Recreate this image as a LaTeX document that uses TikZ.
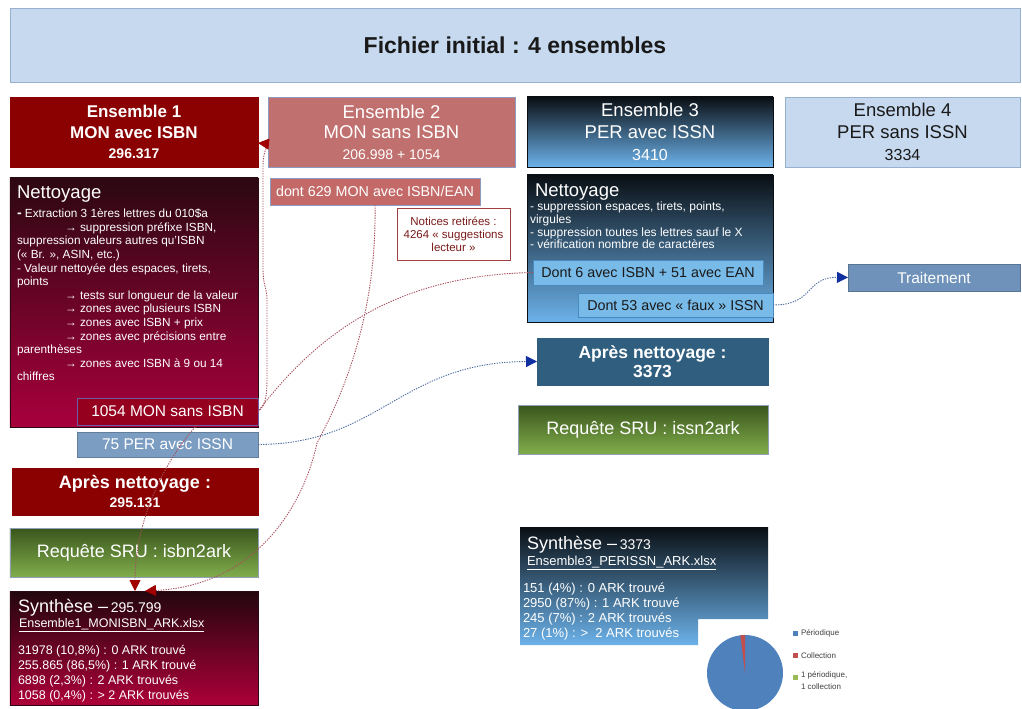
\documentclass[tikz,border=0pt]{standalone}
\usepackage{fontspec}
\setmainfont{Liberation Sans}
\usetikzlibrary{arrows.meta,calc}
\newcommand{\myfs}[2]{\fontsize{#1bp}{#2bp}\selectfont}
\definecolor{titlefill}{HTML}{C6D9EE}
\definecolor{titlebord}{HTML}{97B0CE}
\definecolor{darkred}{HTML}{8B0000}
\definecolor{rose}{HTML}{C0706E}
\definecolor{rosebord}{HTML}{8C9CC0}
\definecolor{wineTop}{HTML}{2C0812}
\definecolor{wineBot}{HTML}{A8003C}
\definecolor{navyTop}{HTML}{0A0F14}
\definecolor{skyBot}{HTML}{6CB2EA}
\definecolor{greenTop}{HTML}{3A561C}
\definecolor{greenBot}{HTML}{80AD4C}
\definecolor{greenbord}{HTML}{8FA0B8}
\definecolor{boxred}{HTML}{95001E}
\definecolor{boxredbord}{HTML}{6C5CA8}
\definecolor{perblue}{HTML}{7B9DC2}
\definecolor{lightblue}{HTML}{79BBE8}
\definecolor{lightbluebord}{HTML}{4A88C0}
\definecolor{traitfill}{HTML}{6E92BA}
\definecolor{steel}{HTML}{2F5E7E}
\definecolor{notbord}{HTML}{A04040}
\definecolor{nottext}{HTML}{7A1A1A}
\definecolor{reddotc}{HTML}{A8505E}
\definecolor{tipred}{HTML}{A00000}
\definecolor{bluedotc}{HTML}{4A6AA0}
\definecolor{tipblue}{HTML}{1030A0}
\definecolor{pieblue}{HTML}{4F81BD}
\definecolor{piered}{HTML}{C0504D}
\definecolor{piegreen}{HTML}{9BBB59}
\definecolor{legtxt}{HTML}{404040}
\tikzset{
  bx/.style={draw=#1, line width=0.6bp, inner sep=0, outer sep=0, align=center},
  wtxt/.style={text=white},
  plain/.style={inner sep=0, outer sep=0},
  reddot/.style={draw=reddotc, line width=0.9bp, dash pattern=on 1.3bp off 1.2bp},
  bluedot/.style={draw=bluedotc, line width=0.9bp, dash pattern=on 1.3bp off 1.2bp},
  redtip/.style={-{Triangle[length=11bp,width=11bp,color=tipred]}},
  bluetip/.style={-{Triangle[length=11bp,width=11bp,color=tipblue]}}
}
\begin{document}
\begin{tikzpicture}[x=1bp,y=-1bp]
\useasboundingbox[fill=white] (0,0) rectangle (1022,709);

% title
\node[bx=titlebord, fill=titlefill, minimum width=1010bp, minimum height=74bp,
  font=\bfseries\myfs{23}{26}, text=black!90] (title) at (515,45) {Fichier initial : 4 ensembles};

% ensembles
\node[bx=darkred, fill=darkred, minimum width=248bp, minimum height=70bp, wtxt,
  font=\bfseries\myfs{17}{20.5}] (e1) at (134,132)
  {Ensemble 1\\MON avec ISBN\\{\myfs{14}{20.5}296.317}};
\node[bx=rosebord, fill=rose, minimum width=247bp, minimum height=70bp, wtxt,
  font=\myfs{18.5}{20.5}] (e2) at (391.5,132)
  {Ensemble 2\\MON sans ISBN\\{\myfs{14}{20.5}206.998 + 1054}};
\node[bx=navyTop, top color=navyTop, bottom color=skyBot, minimum width=246bp, minimum height=70bp, wtxt,
  font=\myfs{18.5}{22}] (e3) at (650,132)
  {Ensemble 3\\PER avec ISSN\\{\myfs{16}{22}3410}};
\node[bx=titlebord, fill=titlefill, minimum width=235bp, minimum height=70bp, text=black!90,
  font=\myfs{18.5}{22}] (e4) at (902.5,132)
  {Ensemble 4\\PER sans ISSN\\{\myfs{16}{22}3334}};

% Nettoyage 1
\node[bx=wineTop, top color=wineTop, bottom color=wineBot, minimum width=248bp, minimum height=249bp] (n1) at (134,302.5) {};
\node[plain, anchor=base west, wtxt, font=\myfs{18.5}{20}] (n1t) at (17,199) {Nettoyage};
\node[plain, anchor=north west, wtxt, align=left, font=\myfs{11.8}{13.6}] (n1b) at (17,209) {%
{\bfseries\myfs{14}{13.6}-} Extraction 3 1ères lettres du 010\$a\\
\hspace*{48bp}→ suppression préfixe ISBN,\\
suppression valeurs autres qu'ISBN\\
(« Br. », ASIN, etc.)\\
- Valeur nettoyée des espaces, tirets,\\
points\\
\hspace*{48bp}→ tests sur longueur de la valeur\\
\hspace*{48bp}→ zones avec plusieurs ISBN\\
\hspace*{48bp}→ zones avec ISBN + prix\\
\hspace*{48bp}→ zones avec précisions entre\\
parenthèses\\
\hspace*{48bp}→ zones avec ISBN à 9 ou 14\\
chiffres};

\node[bx=boxredbord, fill=boxred, minimum width=181bp, minimum height=27bp, wtxt, font=\myfs{15.5}{17}] (m1054) at (167.5,411.5) {1054 MON sans ISBN};
\node[bx=perblue!80!black, fill=perblue, minimum width=181bp, minimum height=25bp, wtxt, font=\myfs{15.5}{17}] (p75) at (167.5,444.5) {75 PER avec ISSN};

\node[bx=darkred, fill=darkred, minimum width=246bp, minimum height=47bp, wtxt,
  font=\bfseries\myfs{18}{19}] (an1) at (135,491.5) {Après nettoyage :\\{\myfs{14}{19}295.131}};
\node[bx=greenbord, top color=greenTop, bottom color=greenBot, minimum width=248bp, minimum height=49bp, wtxt,
  font=\myfs{18}{20}] (sru1) at (134,552.5) {Requête SRU : isbn2ark};

% Synthese 1
\node[bx=wineTop, top color=wineTop!80!black, bottom color=wineBot!95!red, minimum width=248bp, minimum height=114bp] (s1) at (134,648) {};
\node[plain, anchor=base west, wtxt] (s1t) at (18,612) {{\myfs{18}{20}Synthèse –} {\myfs{14}{16}295.799}};
\node[plain, anchor=base west, wtxt, font=\myfs{12.5}{14}] (s1f) at (19,627) {\underline{Ensemble1\_MONISBN\_ARK.xlsx}};
\node[plain, anchor=north west, wtxt, align=left, font=\myfs{12.5}{15}] (s1b) at (18,645) {%
31978 (10,8\%) : 0 ARK trouvé\\
255.865 (86,5\%) : 1 ARK trouvé\\
6898 (2,3\%) : 2 ARK trouvés\\
1058 (0,4\%) : > 2 ARK trouvés};

% Ensemble 2 column
\node[bx=rosebord, fill=rose!95!red, minimum width=210bp, minimum height=27bp, wtxt, font=\myfs{14.3}{16}] (d629) at (375,191.5) {dont 629 MON avec ISBN/EAN};
\node[bx=notbord, fill=white, minimum width=113bp, minimum height=52bp, text=nottext, font=\myfs{11.5}{13}] (notices) at (453.5,234) {Notices retirées :\\4264 « suggestions\\lecteur »};

% Nettoyage 3
\node[bx=navyTop, top color=navyTop, bottom color=skyBot, minimum width=246bp, minimum height=147bp] (n3) at (650,248.5) {};
\node[plain, anchor=base west, wtxt, font=\myfs{18.5}{20}] (n3t) at (535,197) {Nettoyage};
\node[plain, anchor=north west, wtxt, align=left, font=\myfs{12}{12.7}] (n3b) at (530,202) {%
- suppression espaces, tirets, points,\\
virgules\\
- suppression toutes les lettres sauf le X\\
- vérification nombre de caractères};
\node[bx=lightbluebord, fill=lightblue, minimum width=230bp, minimum height=25bp, text=black!90, font=\myfs{14.3}{16}] (dont6) at (648,272.5) {Dont 6 avec ISBN + 51 avec EAN};
\node[bx=lightbluebord, fill=lightblue, minimum width=195bp, minimum height=24bp, text=black!90, font=\myfs{14.3}{16}] (dont53) at (675.5,305) {Dont 53 avec « faux » ISSN};

\node[bx=traitfill!80!black, fill=traitfill, minimum width=172bp, minimum height=27bp, wtxt, font=\myfs{15.5}{17}] (tr) at (934,277.5) {Traitement};

\node[bx=steel, fill=steel, minimum width=231bp, minimum height=47bp, wtxt,
  font=\bfseries\myfs{17.5}{19}] (an3) at (652.5,361.5) {Après nettoyage :\\3373};
\node[bx=greenbord, top color=greenTop, bottom color=greenBot, minimum width=250bp, minimum height=49bp, wtxt,
  font=\myfs{18}{20}] (sru3) at (643,429.5) {Requête SRU : issn2ark};

% Synthese 3 (notched box)
\shade[top color=navyTop, bottom color=skyBot] (520,527) -- (768,527) -- (768,619) -- (698,619) -- (698,645) -- (520,645) -- cycle;
\node[plain, anchor=base west, wtxt] (s3t) at (527,549.5) {{\myfs{18}{20}Synthèse –} {\myfs{14}{16}3373}};
\node[plain, anchor=base west, wtxt, font=\myfs{13}{14}] (s3f) at (527,565) {\underline{Ensemble3\_PERISSN\_ARK.xlsx}};
\node[plain, anchor=north west, wtxt, align=left, font=\myfs{13}{15}] (s3b) at (523,583) {%
151 (4\%) : 0 ARK trouvé\\
2950 (87\%) : 1 ARK trouvé\\
245 (7\%) : 2 ARK trouvés\\
27 (1\%) : >\ \ 2\ ARK trouvés};

% pie chart
\coordinate (pc) at (745,673);
\fill[pieblue] (pc) circle[radius=38];
\fill[piered] (pc) -- ++(-90:38) arc[start angle=-90, end angle=-97, radius=38] -- cycle;
\fill[pieblue] (793,631) rectangle (798,636);
\fill[piered] (793,653) rectangle (798,658);
\fill[piegreen] (793,675) rectangle (798,680);
\node[plain, anchor=west, text=legtxt, font=\myfs{8}{11}] (l1) at (801,633.5) {Périodique};
\node[plain, anchor=west, text=legtxt, font=\myfs{8}{11}] (l2) at (801,655.5) {Collection};
\node[plain, anchor=north west, text=legtxt, align=left, font=\myfs{8}{12}] (l3) at (801,672) {1 périodique,\\1 collection};

% connectors
\draw[reddot, redtip] (m1054.east) .. controls (267,405) and (267,392) .. (267,372) -- (267,300)
  .. controls (267,287) and (263,287) .. (263,268) -- (263,165)
  .. controls (263,152) and (268,144) .. ($(e1.east)+(0,11)$);
\draw[reddot] (dont6.west) .. controls (400,275) and (320,330) .. (m1054.east);
\draw[reddot, redtip] (d629.south) .. controls (377,320) and (340,400) .. (317,443)
  .. controls (305,500) and (260,585) .. ($(s1.north west)+(135,0)$);
\draw[reddot, redtip] ($(m1054.south west)+(120,0)$) .. controls (165,460) and (135,520) .. ($(s1.north west)+(125,0)$);
\draw[bluedot, bluetip] (p75.east) .. controls (380,444) and (400,362) .. (an3.west);
\draw[bluedot, bluetip] (dont53.east) .. controls (815,305) and (805,277) .. (tr.west);
\end{tikzpicture}
\end{document}
